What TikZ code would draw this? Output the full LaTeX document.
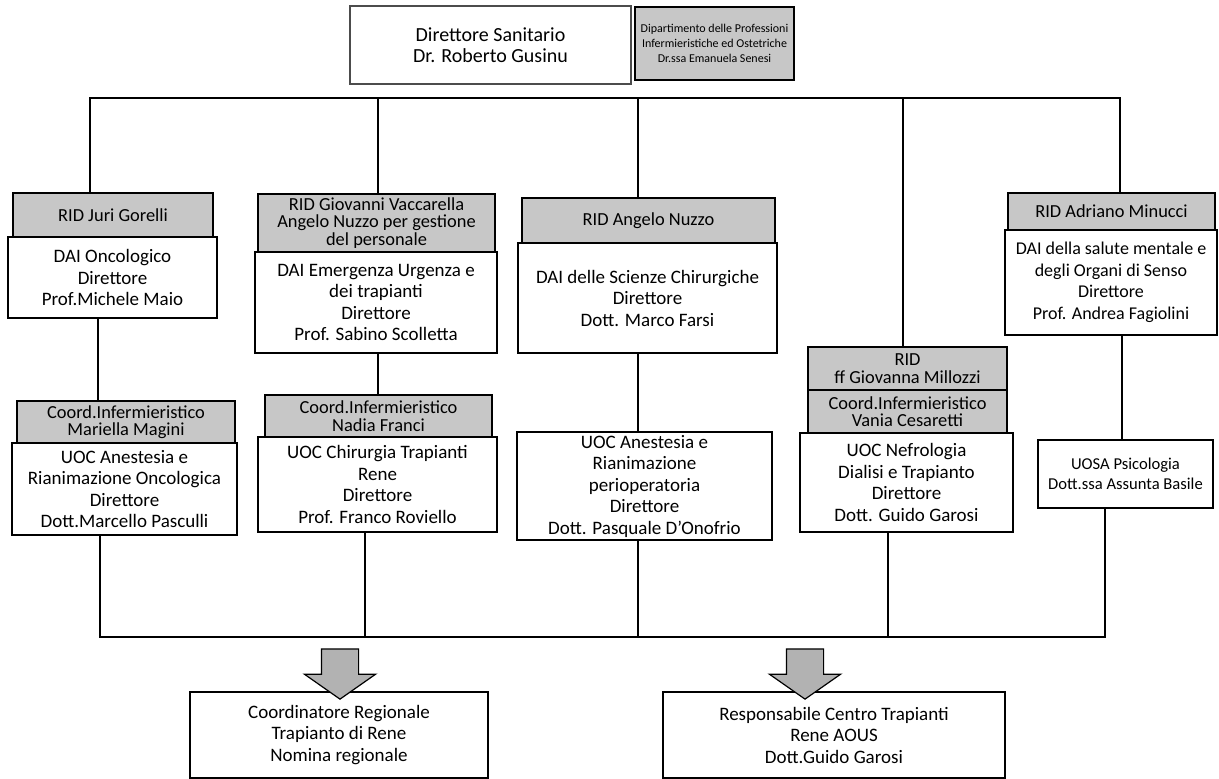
\documentclass[tikz,border=0pt]{standalone}
\usepackage{fontspec}
\setmainfont{Carlito}
\usetikzlibrary{shapes.arrows}
\newcommand{\bxfont}{\fontsize{9.5}{10.75}\selectfont}
\newcommand{\hdfont}{\fontsize{9.2}{8.8}\selectfont}
\newcommand{\dpfont}{\fontsize{6}{7.5}\selectfont}
\newcommand{\smfont}{\fontsize{8.3}{10}\selectfont}
\newcommand{\dsfont}{\fontsize{10}{10.5}\selectfont}

\begin{document}
\begin{tikzpicture}[x=0.5pt,y=-0.5pt,
		orgbox/.style 2 args={draw,line width=0.6pt,inner sep=0pt,align=center,font=\bxfont,minimum width=#1*0.5pt,minimum height=#2*0.5pt},
		ridbox/.style 2 args={orgbox={#1}{#2},fill=black!22,font=\hdfont},
		link/.style={line width=1pt},
		downarr/.style={single arrow,shape border rotate=270,draw,line width=0.6pt,fill=black!30,inner sep=9pt,minimum height=24.5pt,single arrow head extend=8.5pt,single arrow tip angle=110}]
	        \fill[white] (0,0) rectangle (1219,779);
	        \useasboundingbox (0,0) rectangle (1219,779);
	        
			\node[orgbox={281}{78},draw=black!70,font=\dsfont] (dirsan) at (490.5,45) {Direttore Sanitario\\Dr. Roberto Gusinu};
			\node[ridbox={159}{73},font=\dpfont] (dipprof) at (714.5,43.5) {Dipartimento delle Professioni\\Infermieristiche ed Ostetriche\\Dr.ssa Emanuela Senesi};
			
			\node[ridbox={200}{44}] (rid1) at (113,215) {RID Juri Gorelli};
			\node[orgbox={209}{81}] (dai1) at (112.5,277.5) {DAI Oncologico\\Direttore\\Prof.Michele Maio};
			\node[ridbox={218}{42}] (coo1) at (126,422) {Coord.Infermieristico\\Mariella Magini};
			\node[orgbox={225}{92}] (uoc1) at (124.5,489) {UOC Anestesia e\\Rianimazione Oncologica\\Direttore\\Dott.Marcello Pasculli};
			
			\node[ridbox={237}{58}] (rid2) at (376.5,223) {RID Giovanni Vaccarella\\Angelo Nuzzo per gestione\\del personale};
			\node[orgbox={242}{101}] (dai2) at (376,302.5) {DAI Emergenza Urgenza e\\dei trapianti\\Direttore\\Prof. Sabino Scolletta};
			\node[ridbox={227}{42}] (coo2) at (378.5,416) {Coord.Infermieristico\\Nadia Franci};
			\node[orgbox={239}{95}] (uoc2) at (377.5,484.5) {UOC Chirurgia Trapianti\\Rene\\Direttore\\Prof. Franco Roviello};
			
			\node[ridbox={253}{45}] (rid3) at (648.5,220.5) {RID Angelo Nuzzo};
			\node[orgbox={259}{110}] (dai3) at (647.5,298) {DAI delle Scienze Chirurgiche\\Direttore\\Dott. Marco Farsi};
			\node[orgbox={255}{108}] (uoc3) at (644.5,486) {UOC Anestesia e\\Rianimazione\\perioperatoria\\Direttore\\Dott. Pasquale D'Onofrio};
			
			\node[ridbox={199}{43}] (rid4) at (907.5,368.5) {RID\\ff Giovanna Millozzi};
			\node[ridbox={199}{43}] (coo4) at (907.5,411.5) {Coord.Infermieristico\\Vania Cesaretti};
			\node[orgbox={213}{99}] (uoc4) at (906.5,482.5) {UOC Nefrologia\\Dialisi e Trapianto\\Direttore\\Dott. Guido Garosi};
			
			\node[ridbox={207}{37}] (rid5) at (1111.5,211.5) {RID Adriano Minucci};
			\node[orgbox={212}{105},font=\fontsize{9}{10.75}\selectfont] (dai5) at (1111,282.5) {DAI della salute mentale e\\degli Organi di Senso\\Direttore\\Prof. Andrea Fagiolini};
			\node[orgbox={175}{68},font=\smfont] (uoc5) at (1125.5,474) {UOSA Psicologia\\Dott.ssa Assunta Basile};
			
			\node[orgbox={298}{86}] (coordreg) at (339,735) {Coordinatore Regionale\\Trapianto di Rene\\Nomina regionale};
			\node[orgbox={342}{86}] (respct) at (834,735) {Responsabile Centro Trapianti\\Rene AOUS\\Dott.Guido Garosi};
			\node[downarr] (arr1) at (340,667.5) {};
			\node[downarr] (arr2) at (805,667.5) {};
			
			\coordinate (top1) at (90,98);
			\coordinate (top2) at (378,98);
			\coordinate (top3) at (638,98);
			\coordinate (top4) at (903,98);
			\coordinate (top5) at (1120,98);
			\draw[link] (top1 |- rid1.north) -- (top1) -- (top5) -- (top5 |- rid5.north);
			\draw[link] (top2) -- (top2 |- rid2.north);
			\draw[link] (top3) -- (top3 |- rid3.north);
			\draw[link] (top4) -- (top4 |- rid4.north);
			
			\coordinate (mid1) at (98,0);
			\coordinate (mid2) at (378,0);
			\coordinate (mid3) at (638,0);
			\coordinate (mid5) at (1122,0);
			\draw[link] (dai1.south -| mid1) -- (coo1.north -| mid1);
			\draw[link] (dai2.south -| mid2) -- (coo2.north -| mid2);
			\draw[link] (dai3.south -| mid3) -- (uoc3.north -| mid3);
			\draw[link] (dai5.south -| mid5) -- (uoc5.north -| mid5);
			
			\coordinate (bot1) at (100,637);
			\coordinate (bot2) at (365,637);
			\coordinate (bot3) at (638,637);
			\coordinate (bot4) at (888,637);
			\coordinate (bot5) at (1105,637);
			\draw[link] (uoc1.south -| bot1) -- (bot1) -- (bot5) -- (uoc5.south -| bot5);
			\draw[link] (uoc2.south -| bot2) -- (bot2);
			\draw[link] (uoc3.south -| bot3) -- (bot3);
			\draw[link] (uoc4.south -| bot4) -- (bot4);
		\end{tikzpicture}
\end{document}
